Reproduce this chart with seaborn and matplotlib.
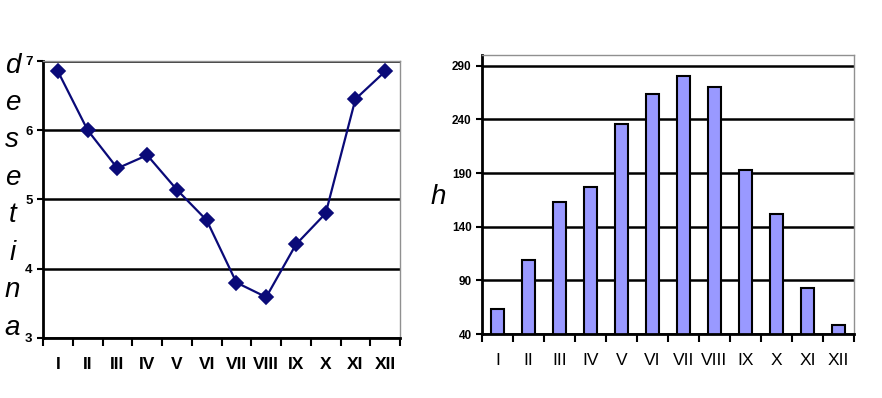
import numpy as np
import matplotlib
matplotlib.use("Agg")
import matplotlib.pyplot as plt
import pandas as pd
import seaborn as sns

sns.set_style("white")
plt.rcParams['font.family'] = ['Liberation Sans Narrow', 'Liberation Sans', 'DejaVu Sans']
plt.rcParams['text.color'] = 'black'
plt.rcParams['xtick.color'] = 'black'
plt.rcParams['ytick.color'] = 'black'

months = ["I", "II", "III", "IV", "V", "VI", "VII", "VIII", "IX", "X", "XI", "XII"]
desetina = [6.85, 6.0, 5.45, 5.64, 5.14, 4.70, 3.80, 3.59, 4.35, 4.80, 6.45, 6.85]
hours = [63, 109, 163, 177, 236, 264, 280, 270, 193, 152, 83, 48]

df = pd.DataFrame({"month": months, "desetina": desetina, "h": hours})

fig = plt.figure(figsize=(8.82, 3.98), dpi=100)
ax1 = fig.add_axes([0.0488, 0.1508, 0.4048, 0.696])
ax2 = fig.add_axes([0.5465, 0.1608, 0.4218, 0.7010])

# left: line chart
sns.pointplot(data=df, x="month", y="desetina", ax=ax1, color="#0a0a78",
              markers="D", markersize=7.5, linewidth=1.6, errorbar=None)
ax1.set_ylim(3, 7)
ax1.set_yticks([3, 4, 5, 6, 7])
ax1.set_xlim(-0.5, 11.5)

# right: bar chart
sns.barplot(data=df, x="month", y="h", ax=ax2, color="#9999ff", width=0.42,
            edgecolor="black", linewidth=1.5, saturation=1)
ax2.set_ylim(40, 300)
ax2.set_yticks([40, 90, 140, 190, 240, 290])
ax2.set_xlim(-0.5, 11.5)

for ax in (ax1, ax2):
    ax.set_xlabel("")
    ax.set_ylabel("")
    ax.grid(axis="y", color="black", linewidth=1.8)
    ax.set_axisbelow(True)
    for s in ("left", "bottom"):
        ax.spines[s].set_color("black")
        ax.spines[s].set_linewidth(2)
    for s in ("top", "right"):
        ax.spines[s].set_color("#909090")
        ax.spines[s].set_linewidth(1)
    ax.set_xticks(np.arange(-0.5, 12, 1), minor=True)
    ax.tick_params(axis="x", which="minor", length=6, width=1.5, color="black", direction="out", bottom=True)
    ax.tick_params(axis="x", which="major", length=0, pad=14, labelsize=12.5, labelcolor="black")
    ax.tick_params(axis="y", which="major", length=4, width=1.5, color="black", direction="out", left=True,
                   labelsize=8.5, labelcolor="black")
    for lab in ax.get_yticklabels():
        lab.set_fontweight("bold")
        lab.set_family(["Liberation Sans", "DejaVu Sans"])

for lab in ax1.get_xticklabels():
    lab.set_fontweight("bold")
ax1.tick_params(axis="y", labelsize=9.5)

# vertical stacked y label of left chart
for i, ch in enumerate("desetina"):
    fig.text(0.014, 0.835 - i * 0.094, ch, fontsize=20, style="italic", ha="center", va="center",
             family=["Liberation Sans", "DejaVu Sans"], color="black")

fig.text(0.497, 0.505, "h", fontsize=20, style="italic", ha="center", va="center",
         family=["Liberation Sans", "DejaVu Sans"], color="black")

fig.savefig("out.png", dpi=100)
